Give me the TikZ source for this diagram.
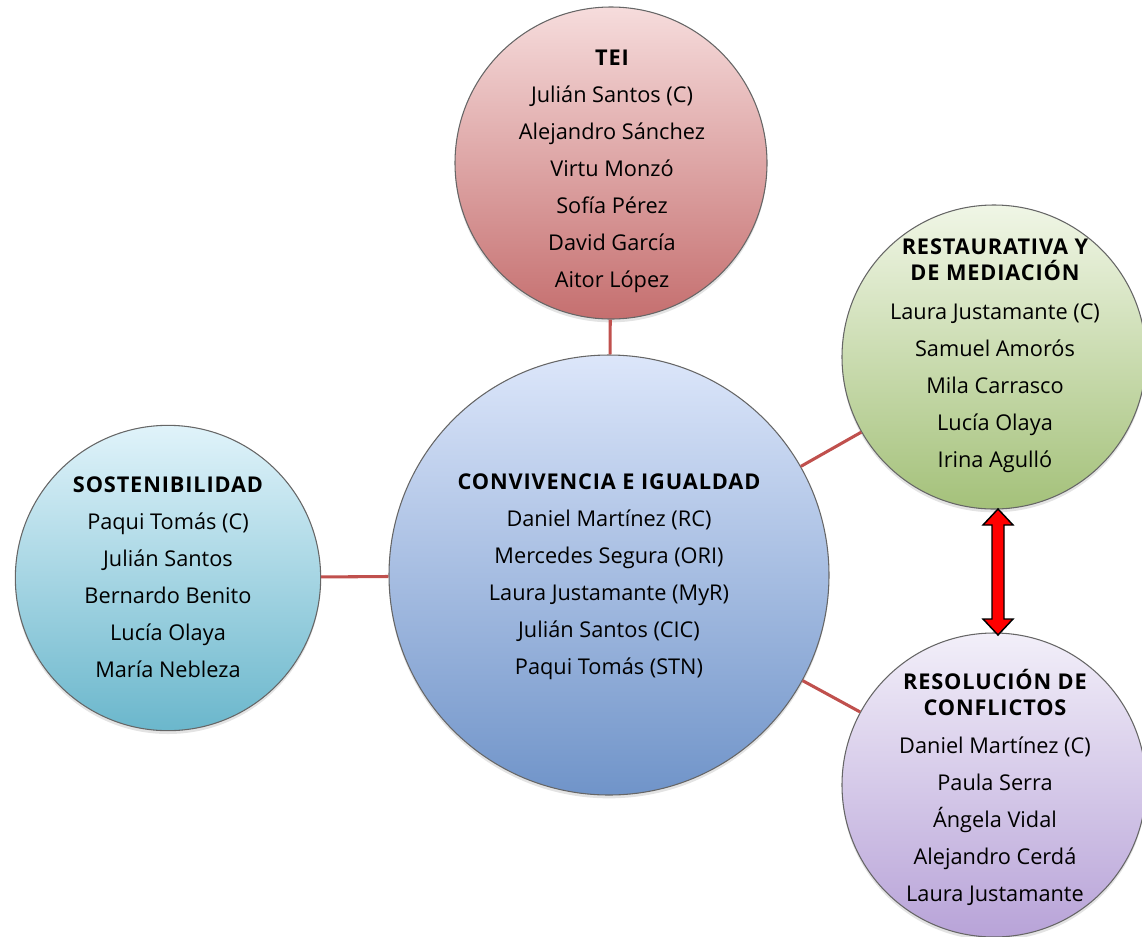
\documentclass[tikz,border=0pt]{standalone}
\usepackage{fontspec}
\usetikzlibrary{shadows}
\setmainfont{Open Sans}
\newfontfamily\hdrfont[LetterSpace=4.0]{Open Sans}
\newcommand{\hd}[1]{{\hdrfont\bfseries #1}}
\begin{document}
\begin{tikzpicture}[x=0.75pt,y=-0.75pt,
  bubble/.style={circle, draw=black!60, line width=0.8pt, inner sep=0pt,
    drop shadow={opacity=0.22, shadow xshift=0pt, shadow yshift=-2.5pt}},
  txt/.style={align=center, anchor=base, inner sep=0pt, font=\fontsize{16.3}{27.75}\selectfont},
  link/.style={draw={rgb,255:red,192;green,80;blue,77}, line width=2.3pt}
]
\definecolor{teitop}{HTML}{F6DCDC}\definecolor{teibot}{HTML}{C56F6F}
\definecolor{restop}{HTML}{F0F6E6}\definecolor{resbot}{HTML}{A4C17A}
\definecolor{contop}{HTML}{DCE6FA}\definecolor{conbot}{HTML}{7094C9}
\definecolor{sostop}{HTML}{E0F3FA}\definecolor{sosbot}{HTML}{6BB7CC}
\definecolor{reotop}{HTML}{F2EFF9}\definecolor{reobot}{HTML}{B8A3D8}
\useasboundingbox (0,0) rectangle (1142,936);

\node[bubble, minimum size=234pt, top color=teitop, bottom color=teibot] (tei) at (611,163) {};
\node[bubble, minimum size=228pt, top color=restop, bottom color=resbot] (rest) at (994,357) {};
\node[bubble, minimum size=330pt, top color=contop, bottom color=conbot] (conv) at (609,575) {};
\node[bubble, minimum size=229pt, top color=sostop, bottom color=sosbot] (sost) at (168,578) {};
\node[bubble, minimum size=228pt, top color=reotop, bottom color=reobot] (reso) at (994,785) {};

\draw[link] (tei) -- (conv);
\draw[link] (conv) -- (rest);
\draw[link] (sost) -- (conv);
\draw[link] (conv) -- (reso);

\filldraw[fill=red, draw=black, line width=1.1pt, line join=miter]
  (998,509) -- (1013,525) -- (1004,525) -- (1004,619) -- (1013,619) -- (998,635)
  -- (983,619) -- (992,619) -- (992,525) -- (983,525) -- cycle;

\node[txt] (teit) at (612,287) {\hd{TEI}\\Julián Santos (C)\\Alejandro Sánchez\\Virtu Monzó\\Sofía Pérez\\David García\\Aitor López};
\node[txt] (restt) at (995,467) {\hd{RESTAURATIVA Y}\\[-8.25pt]\hd{DE MEDIACIÓN}\\[1pt]Laura Justamante (C)\\Samuel Amorós\\Mila Carrasco\\Lucía Olaya\\Irina Agulló};
\node[txt] (convt) at (609,674) {\hd{CONVIVENCIA E IGUALDAD}\\Daniel Martínez (RC)\\Mercedes Segura (ORI)\\Laura Justamante (MyR)\\Julián Santos (CIC)\\Paqui Tomás (STN)};
\node[txt] (sostt) at (168,677) {\hd{SOSTENIBILIDAD}\\Paqui Tomás (C)\\Julián Santos\\Bernardo Benito\\Lucía Olaya\\María Nebleza};
\node[txt] (resot) at (995,901) {\hd{RESOLUCIÓN DE}\\[-8.25pt]\hd{CONFLICTOS}\\[0.5pt]Daniel Martínez (C)\\Paula Serra\\Ángela Vidal\\Alejandro Cerdá\\Laura Justamante};
\end{tikzpicture}
\end{document}
